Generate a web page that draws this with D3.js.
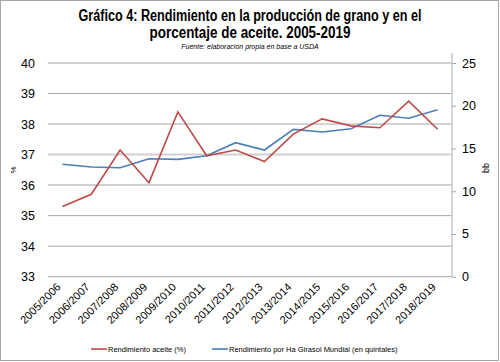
<!DOCTYPE html>
<html><head><meta charset="utf-8">
<script src="https://cdn.jsdelivr.net/npm/d3@7/dist/d3.min.js"></script>
<style>body{margin:0;background:#fff}svg{display:block}</style>
</head><body>
<script>
const categories = ["2005/2006","2006/2007","2007/2008","2008/2009","2009/2010","2010/2011","2011/2012","2012/2013","2013/2014","2014/2015","2015/2016","2016/2017","2017/2018","2018/2019"];
const aceite = [35.3,35.7,37.15,36.08,38.4,36.96,37.15,36.77,37.67,38.17,37.94,37.88,38.75,37.83];
const rendimiento = [13.15,12.83,12.75,13.8,13.73,14.15,15.68,14.82,17.24,16.93,17.3,18.88,18.53,19.54];
const leftTicks = [33,34,35,36,37,38,39,40];
const rightTicks = [0,5,10,15,20,25];
const seriesNames = ["Rendimiento aceite (%)","Rendimiento por Ha Girasol Mundial (en quintales)"];

const W=500,H=362;
const svg=d3.select("body").append("svg").attr("width",W).attr("height",H);
svg.append("rect").attr("x",0.5).attr("y",0.5).attr("width",W-2).attr("height",H-2).attr("fill","#fff").attr("stroke","#a6a6a6");

const L=48,R=452,T=63,B=276.7;
const x=d3.scaleBand().domain(categories).range([L,R]);
const yL=d3.scaleLinear().domain([33,40]).range([B,T]);
const yR=d3.scaleLinear().domain([0,25]).range([B,T]);

// gridlines
svg.append("g").selectAll("line").data(leftTicks).join("line")
 .attr("x1",L).attr("x2",R).attr("y1",d=>yL(d)).attr("y2",d=>yL(d))
 .attr("stroke",d=>(d===36||d===37)?"#d0d0d0":"#a6a6a6").attr("stroke-width",d=>(d===36||d===37)?2:1);

// left axis labels
const fam="'Liberation Sans', Arial, sans-serif";
const gl=svg.append("g").attr("transform",`translate(${L},0)`).call(d3.axisLeft(yL).tickValues(leftTicks).tickFormat(d3.format("d")).tickSize(0).tickPadding(13));
gl.select(".domain").remove();
gl.selectAll("text").attr("font-family",fam).attr("font-size",12.5).attr("fill","#000");

// right axis
const gr=svg.append("g").attr("transform",`translate(${R},0)`).call(d3.axisRight(yR).tickValues(rightTicks).tickSize(4).tickPadding(6));
gr.select(".domain").attr("stroke","#c8c8c8").attr("stroke-width",1.5).attr("d",`M0,${B}V${T-10}`);
gr.selectAll(".tick line").attr("stroke","#a6a6a6");
gr.selectAll("text").attr("font-family",fam).attr("font-size",12.5).attr("fill","#000");

// x labels
const gx=svg.append("g").attr("transform",`translate(0,${B})`).call(d3.axisBottom(x).tickSize(0).tickPadding(0));
gx.select(".domain").remove();
gx.selectAll("text").attr("font-family",fam).attr("font-size",11).attr("fill","#000")
 .attr("text-anchor","end").attr("dy",0).attr("transform","translate(-1,11) rotate(-45)");

// axis titles
svg.append("text").attr("transform","translate(16,170) rotate(-90)").attr("text-anchor","middle")
 .attr("font-family",fam).attr("font-size",8).text("%");
svg.append("text").attr("transform","translate(484,168) rotate(90)").attr("text-anchor","middle")
 .attr("font-family",fam).attr("font-size",9).text("qq");

// lines
const cx=d=>x(d)+x.bandwidth()/2;
svg.append("path").datum(rendimiento).attr("fill","none").attr("stroke","#4a7ebb").attr("stroke-width",1.6)
 .attr("d",d3.line().x((d,i)=>cx(categories[i])).y(d=>yR(d)));
svg.append("path").datum(aceite).attr("fill","none").attr("stroke","#be4b48").attr("stroke-width",1.6)
 .attr("d",d3.line().x((d,i)=>cx(categories[i])).y(d=>yL(d)));

// title (condensed via horizontal scale to match reference widths)
const tf="'Liberation Sans Narrow','Arial Narrow',sans-serif";
function titleLine(txt,y,w){
  const t=svg.append("text").attr("x",0).attr("y",0).attr("text-anchor","middle").attr("font-family",tf)
    .attr("font-weight","bold").attr("font-size",16).text(txt);
  const nat=t.node().getComputedTextLength();
  t.attr("transform",`translate(250,${y}) scale(${w/nat},1)`);
}
titleLine("Gráfico 4: Rendimiento en la producción de grano y en el",21,343);
titleLine("porcentaje de aceite. 2005-2019",38,201);
svg.append("text").attr("x",250).attr("y",49).attr("text-anchor","middle").attr("font-family",fam).attr("font-style","italic")
 .attr("font-size",7).text("Fuente:  elaboración propia en base a USDA");

// legend
const colors=["#be4b48","#4a7ebb"];
const lx=[91,212];
const lg=svg.append("g");
seriesNames.forEach((n,i)=>{
  lg.append("line").attr("x1",lx[i]).attr("x2",lx[i]+16).attr("y1",349).attr("y2",349).attr("stroke",colors[i]).attr("stroke-width",1.6);
  lg.append("text").attr("x",lx[i]+17).attr("y",352).attr("font-family",fam).attr("font-size",7.5).text(n);
});
</script>
</body></html>
